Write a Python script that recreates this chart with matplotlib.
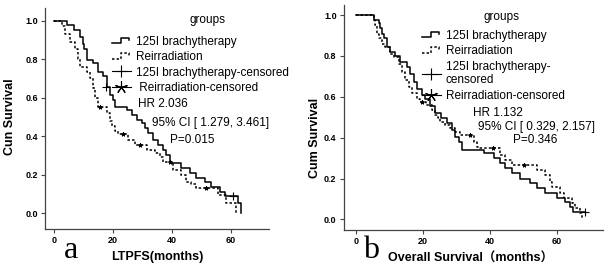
import matplotlib
matplotlib.use("Agg")
import matplotlib.pyplot as plt
from matplotlib.lines import Line2D
from matplotlib.legend_handler import HandlerBase

plt.rcParams['font.family'] = ['Liberation Sans', 'Noto Sans CJK SC']

# ---- panel a: LTPFS ----
a_brachy_t = [0, 4.2, 6.5, 8.7, 9.6, 10.2, 11.0, 13.2, 14.9, 16.6, 17.8, 18.9, 20.0, 20.6,
              24.6, 26.3, 28.0, 29.7, 30.8, 31.9, 33.6, 35.3, 37.0, 38.1, 39.3, 43.2, 46.1,
              48.3, 51.2, 53.4, 56.3, 58.0, 62.5, 63.6]
a_brachy_s = [1.0, 0.978, 0.952, 0.917, 0.88, 0.85, 0.796, 0.78, 0.735, 0.71, 0.657, 0.614, 0.588, 0.553,
              0.536, 0.51, 0.485, 0.467, 0.44, 0.415, 0.38, 0.355, 0.33, 0.30, 0.26, 0.234, 0.208,
              0.18, 0.164, 0.138, 0.112, 0.087, 0.052, 0.0]
a_brachy_cens_t = [17.5, 60.8]
a_brachy_cens_s = [0.657, 0.087]

a_reirr_t = [0, 2.5, 3.6, 5.3, 7.0, 8.1, 8.7, 11.0, 12.1, 13.2, 13.8, 14.9, 17.8, 18.9, 19.5,
             20.6, 21.7, 25.1, 27.4, 31.4, 34.2, 35.9, 37.0, 40.4, 43.2, 44.9, 46.6, 48.3,
             55.7, 58.2, 61.9]
a_reirr_s = [1.0, 0.97, 0.93, 0.89, 0.85, 0.80, 0.76, 0.735, 0.70, 0.65, 0.60, 0.55, 0.52, 0.48, 0.45,
             0.424, 0.41, 0.38, 0.355, 0.33, 0.31, 0.29, 0.268, 0.225, 0.2, 0.164, 0.15, 0.13,
             0.095, 0.05, 0.0]
a_reirr_cens_t = [15.5, 23.4, 29.1, 39.3, 51.7]
a_reirr_cens_s = [0.55, 0.41, 0.355, 0.268, 0.13]

# ---- panel b: overall survival ----
b_brachy_t = [0, 5.2, 6.7, 7.2, 7.7, 8.2, 9.2, 10.2, 11.7, 13.2, 15.2, 16.2, 17.2, 18.2, 19.7,
              20.7, 22.1, 23.5, 25.3, 27.1, 28.6, 29.6, 30.6, 31.6, 38.1, 41.3, 43.0, 44.5,
              46.5, 49.0, 52.0, 54.0, 56.4, 59.9, 62.4, 63.9, 64.9, 68.4]
b_brachy_s = [1.0, 0.976, 0.96, 0.935, 0.91, 0.886, 0.845, 0.82, 0.80, 0.77, 0.747, 0.714, 0.673, 0.64, 0.61,
              0.59, 0.555, 0.52, 0.495, 0.47, 0.437, 0.404, 0.38, 0.34, 0.323, 0.30, 0.274, 0.25,
              0.225, 0.20, 0.176, 0.152, 0.127, 0.103, 0.086, 0.062, 0.037, 0.037]
b_brachy_cens_t = [68.4]
b_brachy_cens_s = [0.037]

b_reirr_t = [0, 5.2, 5.7, 6.2, 6.7, 7.7, 8.7, 10.2, 11.2, 12.7, 13.7, 14.7, 15.7, 16.7, 18.2,
             19.2, 21.0, 22.6, 23.6, 24.3, 25.1, 26.6, 28.1, 29.6, 31.1, 35.1, 36.1, 37.0,
             43.0, 44.5, 46.5, 54.0, 56.5, 58.0, 58.5, 61.0, 62.0, 64.5, 65.5, 67.0, 67.5]
b_reirr_s = [1.0, 0.975, 0.95, 0.91, 0.886, 0.86, 0.845, 0.81, 0.796, 0.763, 0.72, 0.68, 0.65, 0.617, 0.59,
             0.575, 0.56, 0.535, 0.51, 0.494, 0.478, 0.462, 0.445, 0.43, 0.413, 0.38, 0.356, 0.347,
             0.315, 0.29, 0.266, 0.241, 0.217, 0.184, 0.16, 0.127, 0.103, 0.078, 0.054, 0.03, 0.0]
b_reirr_cens_t = [19.6, 34.1, 41.0, 50.0]
b_reirr_cens_s = [0.575, 0.413, 0.347, 0.266]

x_ticks = [0, 20, 40, 60]
y_ticks = [0.0, 0.2, 0.4, 0.6, 0.8, 1.0]

DOT = (0, (1.6, 1.4))
STAR = (5, 2, 0)


class StepHandler(HandlerBase):
    # step-shaped legend key like the SPSS output
    def __init__(self, ls):
        super().__init__()
        self.ls = ls

    def create_artists(self, legend, orig_handle, xdescent, ydescent, width, height, fontsize, trans):
        x0, w, h = -xdescent, width, height
        xs = [x0, x0 + 0.45 * w, x0 + 0.45 * w, x0 + 0.9 * w, x0 + 0.9 * w]
        ys = [0.2 * h, 0.2 * h, 0.85 * h, 0.85 * h, 0.55 * h]
        ln = Line2D(xs, [y - ydescent for y in ys], color='black', lw=1.1, ls=self.ls, transform=trans)
        return [ln]


def draw_panel(ax, t1, s1, c1t, c1s, t2, s2, c2t, c2s, xlim, ylim):
    ax.step(t1, s1, where='post', color='black', lw=1.1)
    ax.step(t2, s2, where='post', color='black', lw=1.1, ls=DOT)
    ax.plot(c1t, c1s, ls='none', marker='+', ms=6, mew=0.8, color='black')
    ax.plot(c2t, c2s, ls='none', marker=STAR, ms=3, mew=0.8, color='black')
    ax.set_xlim(*xlim)
    ax.set_ylim(*ylim)
    ax.set_xticks(x_ticks)
    ax.set_yticks(y_ticks)
    ax.set_yticklabels(['%.1f' % v for v in y_ticks])
    for sp in ['top', 'right']:
        ax.spines[sp].set_visible(False)
    for sp in ['left', 'bottom']:
        ax.spines[sp].set_color('#444444')
        ax.spines[sp].set_linewidth(0.9)
    ax.tick_params(length=3, width=0.8, labelsize=6.5, pad=2, color='#444444')
    for lab in ax.get_xticklabels() + ax.get_yticklabels():
        lab.set_fontweight('bold')


def add_legend(ax, labels, anchor, fs):
    h = [Line2D([], [], color='black'), Line2D([], [], color='black', ls=DOT),
         Line2D([], [], color='black', marker='+', ms=9, mew=0.8, lw=0.8),
         Line2D([], [], color='black', marker=STAR, ms=9, mew=0.8, lw=0.8)]
    leg = ax.legend(h, labels, frameon=False, fontsize=fs,
                    loc='upper left', bbox_to_anchor=anchor, bbox_transform=ax.figure.transFigure,
                    handlelength=1.6, handletextpad=0.4, labelspacing=0.28, borderpad=0,
                    borderaxespad=0,
                    handler_map={h[0]: StepHandler('-'), h[1]: StepHandler(DOT)})
    return leg


fig = plt.figure(figsize=(6.08, 2.69), dpi=100)
ax_a = fig.add_axes([0.074, 0.149, 0.368, 0.822])
ax_b = fig.add_axes([0.565, 0.145, 0.427, 0.836])

draw_panel(ax_a, a_brachy_t, a_brachy_s, a_brachy_cens_t, a_brachy_cens_s,
           a_reirr_t, a_reirr_s, a_reirr_cens_t, a_reirr_cens_s, (-3.2, 72.9), (-0.082, 1.066))
draw_panel(ax_b, b_brachy_t, b_brachy_s, b_brachy_cens_t, b_brachy_cens_s,
           b_reirr_t, b_reirr_s, b_reirr_cens_t, b_reirr_cens_s, (-3.8, 73.8), (-0.052, 1.049))

add_legend(ax_a, ['125I brachytherapy', 'Reirradiation', '125I brachytherapy-censored',
                  ' Reirradiation-censored'], (112 / 608, 1 - 36 / 269), 8.5)
add_legend(ax_b, ['125I brachytherapy', 'Reirradiation', '125I brachytherapy-\ncensored',
                  'Reirradiation-censored'], (422 / 608, 1 - 30 / 269), 8.5)
fig.text(207 / 608, 1 - 20 / 269, 'groups', fontsize=8.5, ha='center', va='center')
fig.text(502 / 608, 1 - 17 / 269, 'groups', fontsize=8.5, ha='center', va='center')

fig.text(138 / 608, 1 - 104 / 269, 'HR 2.036', fontsize=8.5, va='center')
fig.text(152 / 608, 1 - 123 / 269, '95% CI [ 1.279, 3.461]', fontsize=8.5, va='center')
fig.text(170 / 608, 1 - 140 / 269, 'P=0.015', fontsize=8.5, va='center')
fig.text(473 / 608, 1 - 113 / 269, 'HR 1.132', fontsize=8.5, va='center')
fig.text(478 / 608, 1 - 127 / 269, '95% CI [ 0.329, 2.157]', fontsize=8.5, va='center')
fig.text(513 / 608, 1 - 140 / 269, 'P=0.346', fontsize=8.5, va='center')

ax_a.set_ylabel('Cun Survival', fontsize=9, fontweight='bold')
ax_a.yaxis.set_label_coords(-0.13, 0.507)
ax_b.set_ylabel('Cum Survival', fontsize=9, fontweight='bold')
ax_b.yaxis.set_label_coords(-0.088, 0.41)
ax_a.set_xlabel('LTPFS(months)', fontsize=9, fontweight='bold')
ax_a.xaxis.set_label_coords(0.5, -0.10)
ax_b.set_xlabel('Overall Survival（months）', fontsize=9, fontweight='bold')
ax_b.xaxis.set_label_coords(0.488, -0.102)

fig.text(71 / 608, 1 - 251 / 269, 'a', fontsize=23, family='Liberation Serif', ha='center', va='center')
fig.text(371 / 608, 1 - 251 / 269, 'b', fontsize=23, family='Liberation Serif', ha='center', va='center')

fig.savefig('out.png', dpi=100)
